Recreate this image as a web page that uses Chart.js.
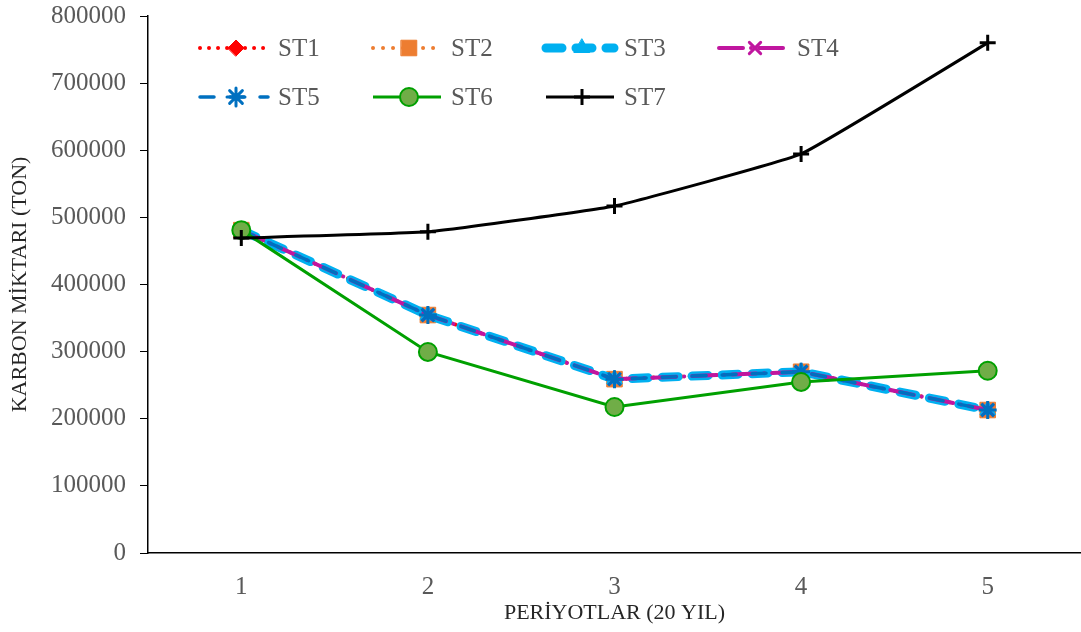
<!DOCTYPE html>
<html>
<head>
<meta charset="utf-8">
<script src="https://cdn.jsdelivr.net/npm/chart.js@4.4.1/dist/chart.umd.min.js"></script>
<style>
  html, body { margin: 0; padding: 0; background: #fff; }
  #wrap { width: 1081px; height: 632px; }
</style>
</head>
<body>
<div id="wrap"><canvas id="grafico" width="1081" height="632"></canvas></div>
<script>
// --- DATA ---
const periyotlar = ['1', '2', '3', '4', '5'];
const st1 = [481000, 354500, 259000, 270000, 213000];
const st2 = [481000, 354500, 259000, 270000, 213000];
const st3 = [481000, 354500, 259000, 270000, 213000];
const st4 = [481000, 354500, 259000, 270000, 213000];
const st5 = [481000, 354500, 259000, 270000, 213000];
const st6 = [481000, 299500, 217500, 254800, 271500];
const st7 = [469300, 478500, 517000, 594500, 760000];
const yTicks = [0, 100000, 200000, 300000, 400000, 500000, 600000, 700000, 800000];

const serif = '"Liberation Serif", "Times New Roman", serif';
const cinza = '#595959';

const series = [
    { label: 'ST1', data: st1, color: '#FF0000', width: 4, dash: [0.01, 9], cap: 'round', point: 'rectRot', r: 8, fill: '#FF0000' },
    { label: 'ST2', data: st2, color: '#ED7D31', width: 4, dash: [0.01, 10], cap: 'round', point: 'rect', r: 11, fill: '#ED7D31' },
    { label: 'ST3', data: st3, color: '#00B0F0', width: 9, dash: [16, 14], cap: 'round', point: 'triangle', r: 9, fill: '#00B0F0' },
    { label: 'ST4', data: st4, color: '#C0169F', width: 4, dash: [24, 8, 0.01, 8], cap: 'round', point: 'crossRot', r: 8, fill: '#C0169F' },
    { label: 'ST5', data: st5, color: '#0070C0', width: 3.5, dash: [14, 16], cap: 'round', point: 'star', r: 9, fill: '#0070C0' },
    { label: 'ST6', data: st6, color: '#00A000', width: 3, dash: [], cap: 'butt', point: 'circle', r: 9, fill: '#70AD47' },
    { label: 'ST7', data: st7, color: '#000000', width: 3, dash: [], cap: 'butt', point: 'cross', r: 8, fill: '#000000' }
];

// legenda desenhada dentro da área do gráfico (estilo Excel)
const legendaExcel = {
    id: 'legendaExcel',
    afterDraw(chart) {
        const ctx = chart.ctx;
        const area = chart.chartArea;
        const x0 = area.left + 52, colW = 173, rows = [area.top + 32, area.top + 81];
        chart.data.datasets.forEach((ds, i) => {
            const s = series[i];
            const col = i < 4 ? i : i - 4;
            const x = x0 + col * colW;
            const y = i < 4 ? rows[0] : rows[1];
            ctx.save();
            ctx.strokeStyle = s.color;
            ctx.lineWidth = s.width;
            ctx.lineCap = s.cap;
            ctx.setLineDash(s.dash);
            ctx.beginPath();
            ctx.moveTo(x, y);
            ctx.lineTo(x + 68, y);
            ctx.stroke();
            ctx.setLineDash([]);
            ctx.fillStyle = s.fill;
            ctx.strokeStyle = ds.pointBorderColor;
            ctx.lineWidth = ds.pointBorderWidth;
            Chart.helpers.drawPoint(ctx, { pointStyle: s.point, radius: s.r, rotation: 0, borderWidth: ds.pointBorderWidth }, x + 36, y);
            ctx.fillStyle = cinza;
            ctx.font = '25px ' + serif;
            ctx.textBaseline = 'middle';
            ctx.fillText(s.label, x + 78, y + 1);
            ctx.restore();
        });
    }
};

const datasets = series.map((s, i) => ({
    label: s.label,
    data: s.data,
    borderColor: s.color,
    borderWidth: s.width,
    borderDash: s.dash,
    borderCapStyle: s.cap,
    backgroundColor: s.fill,
    pointStyle: s.point,
    pointRadius: s.r,
    pointBackgroundColor: s.fill,
    pointBorderColor: s.point === 'circle' ? s.color : (s.point === 'rect' || s.point === 'rectRot' || s.point === 'triangle' ? s.fill : s.color),
    pointBorderWidth: s.point === 'circle' ? 2 : (s.point === 'cross' || s.point === 'crossRot' || s.point === 'star' ? 3 : 1),
    tension: s.label === 'ST7' ? 0.1 : 0,
    fill: false,
    clip: false,
    order: 7 - i
}));

new Chart(document.getElementById('grafico').getContext('2d'), {
    type: 'line',
    data: { labels: periyotlar, datasets },
    options: {
        responsive: false,
        animation: false,
        layout: { autoPadding: false, padding: { top: 16, right: 0, left: 0, bottom: 0 } },
        plugins: { legend: { display: false }, tooltip: { enabled: false } },
        scales: {
            x: {
                offset: true,
                grid: { display: false, drawTicks: false },
                border: { display: true, color: '#000', width: 1.5 },
                ticks: { color: cinza, font: { family: serif, size: 25 }, padding: 19 },
                title: { display: true, text: 'PERİYOTLAR (20 YIL)', color: '#262626', font: { family: serif, size: 22 }, padding: { top: 0, bottom: 6 } },
                afterFit: a => { a.height = 79; a.paddingLeft = 0; a.paddingRight = 0; }
            },
            y: {
                min: 0,
                max: 800000,
                afterBuildTicks: a => { a.ticks = yTicks.map(v => ({ value: v })); },
                grid: { drawOnChartArea: false, drawTicks: true, tickLength: 8, color: '#000' },
                border: { display: true, color: '#000', width: 1.5 },
                ticks: { color: cinza, font: { family: serif, size: 25 }, padding: 14, callback: v => String(v) },
                title: { display: true, text: 'KARBON MİKTARI (TON)', color: '#262626', font: { family: serif, size: 22 }, padding: { top: 7, bottom: 0 } },
                afterFit: a => { a.width = 148; a.paddingTop = 0; a.paddingBottom = 0; }
            }
        }
    },
    plugins: [legendaExcel]
});
</script>
</body>
</html>
